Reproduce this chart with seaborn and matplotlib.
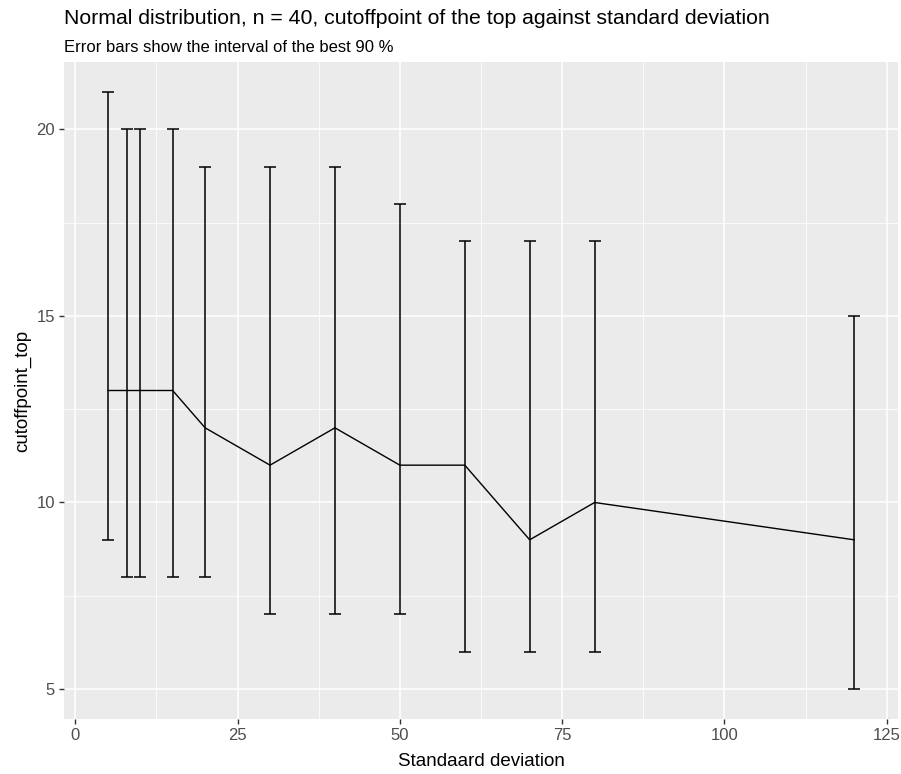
import matplotlib
matplotlib.use("Agg")
import matplotlib.pyplot as plt
import seaborn as sns
import numpy as np
import pandas as pd
from matplotlib.ticker import MultipleLocator

sd = [5, 8, 10, 15, 20, 30, 40, 50, 60, 70, 80, 120]
cutoff = [13, 13, 13, 13, 12, 11, 12, 11, 11, 9, 10, 9]
lower = [9, 8, 8, 8, 8, 7, 7, 7, 6, 6, 6, 5]
upper = [21, 20, 20, 20, 19, 19, 19, 18, 17, 17, 17, 15]
x_ticks = [0, 25, 50, 75, 100, 125]
y_ticks = [5, 10, 15, 20]

df = pd.DataFrame({"sd": sd, "cutoff": cutoff, "lower": lower, "upper": upper})

sns.set_theme(style="darkgrid", rc={
    "axes.facecolor": "#EBEBEB",
    "grid.color": "white",
    "axes.edgecolor": "#EBEBEB",
})
plt.rcParams['font.family'] = ['Liberation Sans', 'DejaVu Sans']

fig = plt.figure(figsize=(9.01, 7.74), dpi=100)
ax = fig.add_axes([64 / 901, 1 - 719 / 774, (898 - 64) / 901, (719 - 62) / 774])

# minor grid
ax.xaxis.set_minor_locator(MultipleLocator(12.5))
ax.yaxis.set_minor_locator(MultipleLocator(2.5))
ax.grid(which="major", color="white", linewidth=1.1)
ax.grid(which="minor", color="white", linewidth=0.55)
ax.set_axisbelow(True)

sns.lineplot(data=df, x="sd", y="cutoff", ax=ax, color="black", linewidth=1.0,
             estimator=None, sort=True)
yerr = np.array([df["cutoff"] - df["lower"], df["upper"] - df["cutoff"]])
ax.errorbar(df["sd"], df["cutoff"], yerr=yerr, fmt="none", ecolor="black",
            elinewidth=1.1, capsize=4.2, capthick=1.1)

xmin = min(sd) - 0.9
xmax = max(sd) + 0.9
xr = xmax - xmin
ax.set_xlim(xmin - 0.05 * xr, xmax + 0.05 * xr)
yr = max(upper) - min(lower)
ax.set_ylim(min(lower) - 0.05 * yr, max(upper) + 0.05 * yr)
ax.set_xticks(x_ticks)
ax.set_yticks(y_ticks)
ax.set_xticklabels([str(v) for v in x_ticks])
ax.set_yticklabels([str(v) for v in y_ticks])
ax.tick_params(axis="both", which="major", length=3.5, width=1.0, color="#333333",
               labelsize=12, labelcolor="#4D4D4D", pad=3, bottom=True, left=True)
ax.tick_params(axis="both", which="minor", length=0)
for s in ax.spines.values():
    s.set_visible(False)

ax.set_xlabel("Standaard deviation", fontsize=13.5, color="black", labelpad=7)
ax.set_ylabel("cutoffpoint_top", fontsize=13.5, color="black", labelpad=4)

fig.text(64 / 901, 1 - 18 / 774, "Normal distribution, n = 40, cutoffpoint of the top against standard deviation",
         fontsize=15.3, color="black", va="center", ha="left")
fig.text(64 / 901, 1 - 47 / 774, "Error bars show the interval of the best 90 %",
         fontsize=12, color="black", va="center", ha="left")

fig.savefig("out.png", dpi=100, facecolor="white")
